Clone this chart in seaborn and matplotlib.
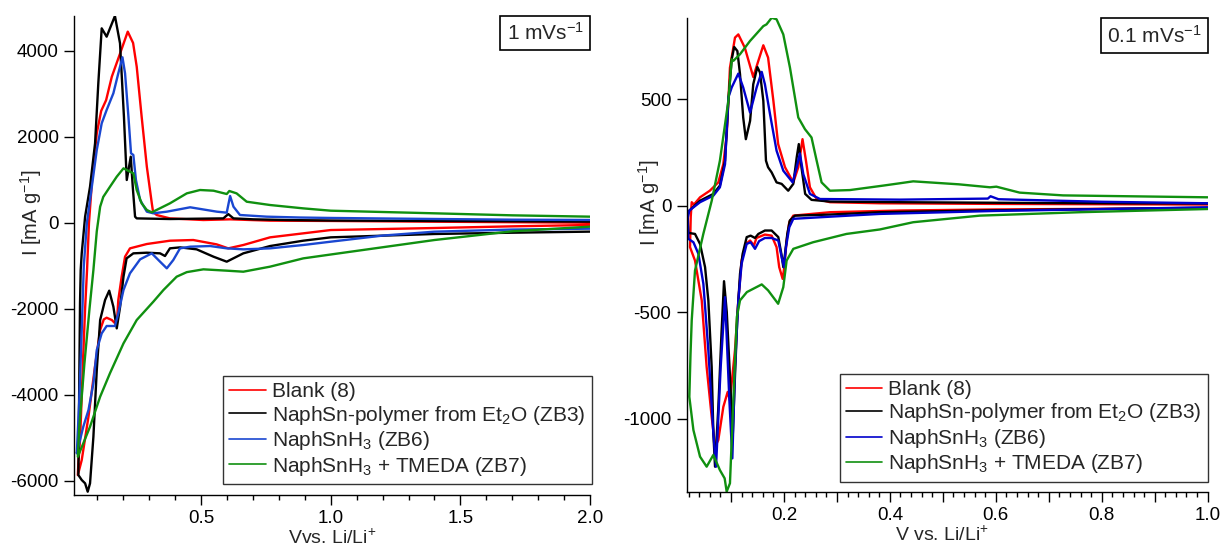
import matplotlib
matplotlib.use("Agg")
import matplotlib.pyplot as plt
import seaborn as sns
import pandas as pd
from matplotlib.ticker import MultipleLocator, FuncFormatter, FixedLocator
from matplotlib.offsetbox import AnchoredText

# ---------------- data (V vs. Li/Li+, I in mA g^-1), each a closed CV loop ----------------
series_labels = ["Blank (8)",
                 r"NaphSn-polymer from Et$_{\mathrm{2}}$O (ZB3)",
                 r"NaphSnH$_{\mathrm{3}}$ (ZB6)",
                 r"NaphSnH$_{\mathrm{3}}$ + TMEDA (ZB7)"]

# ---- 1 mV/s panel ----
fast_blank = [(2.0,-53),(1.7,-85),(1.4,-124),(1.0,-171),(0.894,-248),(0.766,-341),(0.663,-519),(0.605,-597),
              (0.560,-504),(0.470,-403),(0.380,-419),(0.291,-496),(0.226,-597),(0.207,-791),(0.194,-1256),
              (0.181,-1799),(0.175,-2380),(0.156,-2264),(0.136,-2210),(0.125,-2250),(0.111,-2496),(0.091,-3349),
              (0.066,-4512),(0.040,-5520),(0.025,-5870),
              (0.027,-5600),(0.034,-5000),(0.045,-3200),(0.053,-2000),(0.0605,-1100),(0.068,0),(0.080,1000),
              (0.098,2078),(0.115,2600),(0.134,2850),(0.156,3396),(0.188,3938),(0.2174,4443),(0.238,4180),
              (0.252,3628),(0.271,2465),(0.291,1302),(0.310,458),(0.315,250),(0.329,178),(0.380,100),
              (0.509,62),(0.612,78),(0.766,47),(1.0,40),(1.4,23),(2.0,0)]
fast_polymer = [(2.0,-208),(1.7,-233),(1.4,-263),(1.0,-341),(0.894,-419),(0.766,-543),(0.663,-713),(0.599,-907),
                (0.548,-791),(0.483,-620),(0.419,-574),(0.380,-597),(0.361,-775),(0.342,-713),(0.291,-698),
                (0.239,-713),(0.213,-830),(0.201,-1256),(0.188,-1954),(0.175,-2458),(0.162,-1954),(0.146,-1581),
                (0.130,-1798),(0.111,-2263),(0.098,-3426),(0.085,-4977),(0.072,-6062),(0.063,-6257),(0.053,-6062),
                (0.040,-5985),(0.027,-5869),
                (0.0297,-4194),(0.0334,-1870),(0.036,-1100),(0.040,-712),(0.053,140),(0.072,837),(0.0914,1846),
                (0.104,3250),(0.117,4520),(0.136,4326),(0.168,4808),(0.1876,4172),(0.2027,2465),(0.2136,993),
                (0.229,1535),(0.2367,837),(0.2456,140),(0.252,100),(0.380,85),(0.586,100),(0.605,200),(0.625,100),
                (0.702,78),(0.830,62),(1.0,50),(1.4,40),(2.0,25)]
fast_hydride = [(2.0,-139),(1.7,-160),(1.4,-209),(1.2,-300),(1.0,-442),(0.894,-519),(0.766,-597),(0.663,-620),
                (0.599,-597),(0.535,-543),(0.458,-558),(0.419,-597),(0.393,-868),(0.368,-1062),(0.342,-907),
                (0.310,-713),(0.265,-853),(0.226,-1178),(0.201,-1566),(0.181,-2109),(0.168,-2403),(0.136,-2403),
                (0.117,-2574),(0.098,-2962),(0.085,-3737),(0.066,-4357),(0.046,-4745),(0.027,-5210),(0.021,-5365),
                (0.030,-4200),(0.040,-2500),(0.048,-1000),(0.060,0),(0.072,528),(0.098,1691),(0.117,2312),
                (0.136,2621),(0.162,3010),(0.181,3475),(0.197,3847),(0.207,3475),(0.220,2466),(0.230,1614),
                (0.239,1575),(0.249,993),(0.265,528),(0.291,256),(0.316,218),(0.368,256),(0.458,358),(0.561,256),
                (0.599,233),(0.612,621),(0.625,372),(0.650,179),(0.753,140),(0.882,120),(1.0,110),(1.4,86),
                (1.7,70),(2.0,63)]
fast_tmeda = [(2.0,-92),(1.7,-200),(1.4,-403),(1.0,-740),(0.894,-830),(0.766,-1023),(0.663,-1140),(0.599,-1116),
              (0.509,-1085),(0.445,-1150),(0.406,-1256),(0.355,-1566),(0.316,-1838),(0.252,-2264),(0.201,-2807),
              (0.149,-3500),(0.111,-4047),(0.072,-4745),(0.025,-5443),
              (0.030,-4800),(0.050,-3300),(0.070,-2000),(0.085,-1100),(0.098,-200),(0.111,372),(0.123,600),
              (0.149,837),(0.175,1070),(0.201,1264),(0.226,1186),(0.239,1147),(0.252,760),(0.271,450),
              (0.291,295),(0.310,240),(0.380,450),(0.445,682),(0.496,760),(0.548,744),(0.599,667),(0.609,737),
              (0.637,682),(0.676,488),(0.766,411),(0.894,333),(1.0,279),(1.4,218),(1.7,171),(2.0,140)]

# ---- 0.1 mV/s panel ----
slow_blank = [(1.0,-12),(0.8,-15),(0.6,-18),(0.419,-23),(0.287,-31),(0.2176,-47),(0.210,-78),(0.205,-164),
              (0.2006,-289),(0.1975,-344),(0.191,-289),(0.186,-195),(0.1767,-141),(0.164,-136),(0.148,-152),
              (0.1434,-187),(0.136,-164),(0.128,-180),(0.120,-258),(0.1138,-445),(0.1075,-679),(0.098,-914),
              (0.0937,-875),(0.0855,-945),(0.076,-1101),(0.070,-1132),(0.0635,-992),(0.054,-758),(0.0447,-445),
              (0.032,-258),(0.0226,-195),
              (0.0240,-50),(0.0258,16),(0.030,5),(0.0415,39),(0.060,70),(0.076,109),(0.0855,195),(0.092,336),
              (0.098,648),(0.1075,789),(0.1138,804),(0.126,742),(0.142,604),(0.1516,680),(0.161,753),
              (0.170,695),(0.180,492),(0.189,289),(0.202,180),(0.2176,109),(0.227,180),(0.235,312),(0.2415,211),
              (0.249,86),(0.2616,31),(0.287,16),(0.381,11),(0.6,8),(1.0,5)]
slow_polymer = [(1.0,-10),(0.6,-22),(0.381,-31),(0.287,-42),(0.2207,-47),(0.211,-70),(0.2063,-133),(0.202,-226),
                (0.1987,-289),(0.1956,-234),(0.1893,-148),(0.1767,-117),(0.164,-117),(0.1516,-133),(0.1453,-152),
                (0.137,-141),(0.1296,-148),(0.122,-226),(0.117,-320),(0.112,-523),(0.1075,-800),(0.1032,-1086),
                (0.098,-800),(0.092,-500),(0.0868,-355),(0.082,-600),(0.076,-950),(0.0698,-1226),(0.0667,-1070),
                (0.0635,-758),(0.0572,-445),(0.051,-289),(0.0415,-180),(0.032,-133),(0.0195,-128),
                (0.0180,-40),(0.0214,-23),(0.0415,23),(0.0667,55),(0.079,94),(0.0887,211),(0.095,492),
                (0.1013,687),(0.106,745),(0.112,726),(0.117,617),(0.123,414),(0.128,312),(0.136,398),(0.142,570),
                (0.1497,651),(0.1547,625),(0.161,492),(0.166,211),(0.170,180),(0.1767,156),(0.186,109),
                (0.1956,102),(0.208,70),(0.2176,102),(0.224,226),(0.228,289),(0.233,180),(0.240,55),(0.252,27),
                (0.287,19),(0.419,16),(0.7,12),(1.0,10)]
slow_hydride = [(1.0,-8),(0.6,-25),(0.381,-39),(0.287,-52),(0.2176,-62),(0.210,-102),(0.2038,-195),(0.200,-289),
                (0.1956,-242),(0.1893,-164),(0.1767,-152),(0.164,-152),(0.153,-167),(0.1453,-203),(0.137,-172),
                (0.1296,-180),(0.120,-273),(0.1138,-445),(0.1075,-758),(0.1025,-1187),(0.0969,-914),(0.0887,-430),
                (0.0805,-758),(0.0717,-1226),(0.0667,-1070),(0.0572,-680),(0.0478,-367),(0.0384,-226),
                (0.029,-172),(0.0195,-156),
                (0.0180,-60),(0.0214,-23),(0.0415,16),(0.0667,47),(0.079,86),(0.0887,195),(0.095,508),
                (0.1013,555),(0.1138,620),(0.123,555),(0.136,437),(0.1484,555),(0.158,628),(0.164,570),
                (0.1736,430),(0.186,258),(0.1987,164),(0.2164,109),(0.224,180),(0.230,245),(0.2365,148),
                (0.249,55),(0.268,31),(0.419,28),(0.585,33),(0.590,44),(0.605,30),(0.8,18),(1.0,11)]
slow_tmeda = [(1.0,-16),(0.758,-31),(0.570,-47),(0.444,-78),(0.381,-112),(0.318,-133),(0.255,-172),(0.2176,-203),
              (0.205,-258),(0.1987,-383),(0.189,-461),(0.170,-398),(0.158,-370),(0.130,-406),(0.117,-445),
              (0.111,-523),(0.1044,-914),(0.098,-1304),(0.0918,-1343),(0.088,-1281),(0.079,-1242),(0.0666,-1171),
              (0.054,-1226),(0.0415,-1179),(0.029,-1054),(0.0213,-898),
              (0.0235,-700),(0.0258,-539),(0.032,-305),(0.0477,-133),(0.0636,23),(0.079,211),(0.095,492),
              (0.1013,687),(0.1045,680),(0.117,711),(0.1358,773),(0.161,843),(0.167,851),(0.1768,882),
              (0.186,875),(0.1987,804),(0.2113,648),(0.227,414),(0.2396,359),(0.252,320),(0.2617,211),
              (0.271,109),(0.2868,70),(0.3245,73),(0.3874,94),(0.419,105),(0.444,114),(0.530,100),(0.589,86),
              (0.601,89),(0.645,61),(0.727,48),(1.0,39)]

fast_series = [fast_blank, fast_polymer, fast_hydride, fast_tmeda]
slow_series = [slow_blank, slow_polymer, slow_hydride, slow_tmeda]
fast_colors = ["#ff0000", "#000000", "#1a47d1", "#109010"]
slow_colors = ["#ff0000", "#000000", "#0000cc", "#109010"]
fast_rate = r"1 mVs$^{\mathrm{-1}}$"
slow_rate = r"0.1 mVs$^{\mathrm{-1}}$"


def to_frame(series):
    rows = []
    for lab, pts in zip(series_labels, series):
        for k, (v, i) in enumerate(pts):
            rows.append({"series": lab, "V": v, "I": i, "k": k})
    return pd.DataFrame(rows)


sns.set_style("ticks")
plt.rcParams["font.family"] = ["Liberation Sans", "DejaVu Sans"]
plt.rcParams["mathtext.fontset"] = "custom"
plt.rcParams["mathtext.rm"] = "Liberation Sans"
plt.rcParams["mathtext.it"] = "Liberation Sans:italic"
plt.rcParams["mathtext.bf"] = "Liberation Sans:bold"
plt.rcParams["axes.unicode_minus"] = False

fig = plt.figure(figsize=(12.2, 5.49), dpi=100)
ax1 = fig.add_axes([0.0607, 0.0984, 0.423, 0.873])
ax2 = fig.add_axes([0.5629, 0.1038, 0.427, 0.863])

panels = [
    (ax1, fast_series, fast_colors, fast_rate, (0.0104, 2.0), (-6333, 4814), "Vvs. Li/Li$^{+}$"),
    (ax2, slow_series, slow_colors, slow_rate, (0.0164, 1.0), (-1345, 880), "V vs. Li/Li$^{+}$"),
]

for ax, series, colors, rate, xl, yl, xlab in panels:
    df = to_frame(series)
    sns.lineplot(data=df, x="V", y="I", hue="series", hue_order=series_labels,
                 palette=colors, sort=False, estimator=None, linewidth=1.7, ax=ax)
    ax.set_xlim(*xl)
    ax.set_ylim(*yl)
    for s in ["top", "right"]:
        ax.spines[s].set_visible(False)
    for s in ["left", "bottom"]:
        ax.spines[s].set_color("black")
        ax.spines[s].set_linewidth(1.0)
    ax.tick_params(axis="both", which="major", direction="out", length=7, width=1,
                   colors="black", labelsize=13.5, pad=4)
    ax.tick_params(axis="x", which="minor", direction="out", length=3.5, width=1, colors="black")
    ax.set_xlabel(xlab, fontsize=14)
    ax.set_ylabel(r"I [mA g$^{\mathrm{-1}}$]", fontsize=14.5)
    handles, labels = ax.get_legend_handles_labels()
    leg = ax.legend(handles, labels, loc="lower right", frameon=True, fancybox=False,
                    framealpha=1, edgecolor="#333333", fontsize=15, handlelength=1.75,
                    handletextpad=0.3, labelspacing=0.12, borderpad=0.3, borderaxespad=0)
    leg.get_frame().set_linewidth(1.0)
    for ln in leg.get_lines():
        ln.set_linewidth(1.2)
    at = AnchoredText(rate, loc="upper right", frameon=True, pad=0.3, borderpad=0,
                      prop=dict(size=15))
    at.patch.set_boxstyle("square,pad=0")
    at.patch.set_edgecolor("black")
    at.patch.set_linewidth(1.2)
    ax.add_artist(at)

# left panel ticks
ax1.yaxis.set_major_locator(MultipleLocator(2000))
ax1.xaxis.set_major_locator(FixedLocator([0.5, 1.0, 1.5, 2.0]))
ax1.xaxis.set_minor_locator(MultipleLocator(0.1))
ax1.xaxis.set_major_formatter(FuncFormatter(lambda v, p: f"{v:.1f}"))
ax1.legend_.set_bbox_to_anchor((1.003, 0.023))
ax1.yaxis.set_label_coords(-0.058, 0.59)
ax1.xaxis.set_label_coords(0.5, -0.069)

# right panel ticks
ax2.yaxis.set_major_locator(MultipleLocator(500))
ax2.xaxis.set_major_locator(MultipleLocator(0.1))
ax2.xaxis.set_minor_locator(MultipleLocator(0.02))
ax2.xaxis.set_major_formatter(FuncFormatter(
    lambda v, p: f"{v:.1f}" if abs(round(v * 10) % 2) == 0 and v > 0.05 else ""))
ax2.legend_.set_bbox_to_anchor((1.001, 0.0217))
ax2.yaxis.set_label_coords(-0.047, 0.61)
ax2.xaxis.set_label_coords(0.49, -0.070)

fig.savefig("out.png", dpi=100)
